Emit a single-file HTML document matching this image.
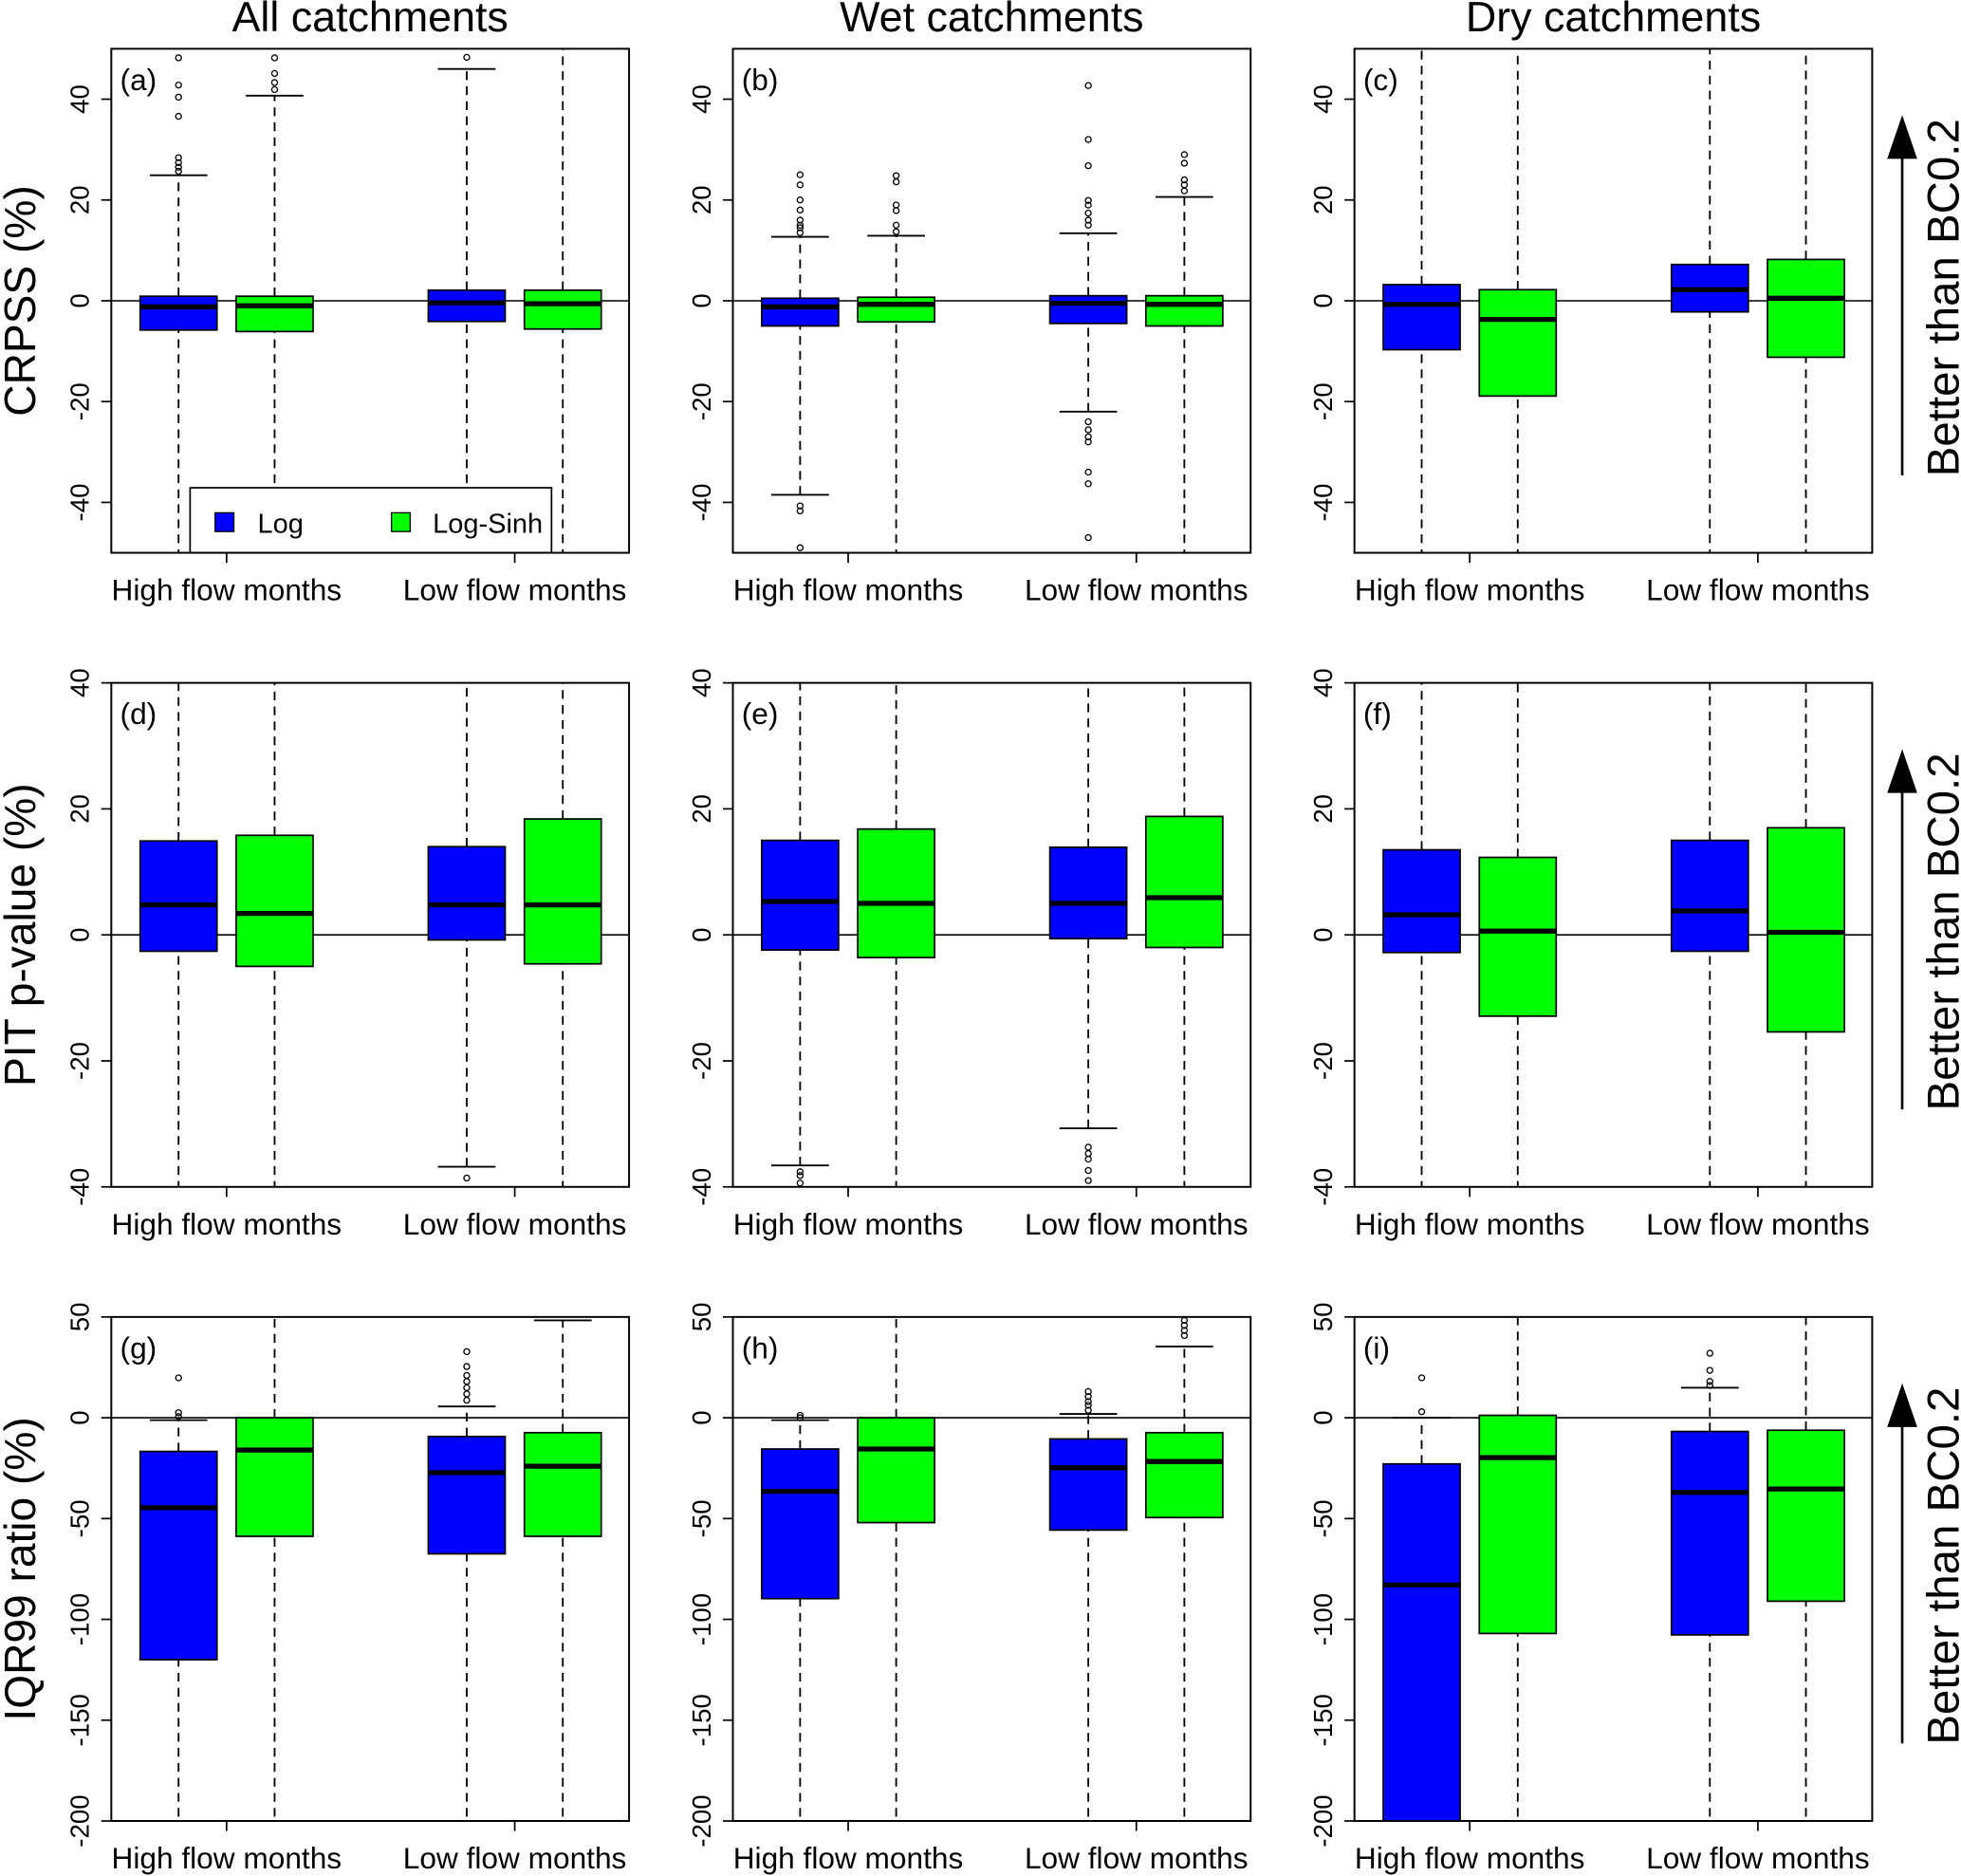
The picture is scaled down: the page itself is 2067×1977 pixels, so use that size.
<!DOCTYPE html>
<html><head><meta charset="utf-8"><style>
html,body{margin:0;padding:0;background:#fff;}
svg{display:block;font-family:"Liberation Sans",sans-serif;}
</style></head><body>
<svg id="fig" width="2067" height="1977" viewBox="0 0 1568 1500" preserveAspectRatio="none" xmlns="http://www.w3.org/2000/svg"></svg>
<script>
// ----- data -----
const colTitles = ["All catchments", "Wet catchments", "Dry catchments"];
const rowTitles = ["CRPSS (%)", "PIT p-value (%)", "IQR99 ratio (%)"];
const panelLetters = ["(a)","(b)","(c)","(d)","(e)","(f)","(g)","(h)","(i)"];
const groupLabels = ["High flow months", "Low flow months"];
const seriesNames = ["Log", "Log-Sinh"];
const seriesColors = ["#0000ff", "#00ff00"];
const row1Ticks = [-40, -20, 0, 20, 40];
const row2Ticks = [-40, -20, 0, 20, 40];
const row3Ticks = [-200, -150, -100, -50, 0, 50];
const row1Range = [-50, 50];
const row2Range = [-40, 40];
const row3Range = [-200, 50];
// stats per box: [lower whisker, Q1, median, Q3, upper whisker]; order Log-high, LogSinh-high, Log-low, LogSinh-low
const statsA = [[-60,-5.8,-1.2,0.9,24.9],[-60,-6.1,-1,0.9,40.7],[-60,-4.1,-0.4,2.1,46],[-60,-5.6,-0.6,2.1,60]];
const statsB = [[-38.5,-5,-1.2,0.5,12.7],[-60,-4.2,-0.7,0.7,12.9],[-22,-4.5,-0.5,1,13.4],[-60,-5,-0.7,1,20.6]];
const statsC = [[-60,-9.7,-0.7,3.2,60],[-60,-18.9,-3.7,2.2,60],[-60,-2.2,2.2,7.2,60],[-60,-11.2,0.5,8.2,60]];
const statsD = [[-50,-2.6,4.75,14.9,50],[-50,-5,3.4,15.8,50],[-36.8,-0.8,4.75,14,50],[-50,-4.6,4.75,18.4,50]];
const statsE = [[-36.6,-2.4,5.3,15,50],[-50,-3.6,5,16.8,50],[-30.7,-0.6,5,13.9,50],[-50,-2,5.9,18.8,50]];
const statsF = [[-50,-2.8,3.2,13.5,50],[-50,-12.9,0.6,12.3,50],[-50,-2.6,3.8,15,50],[-50,-15.4,0.4,17,50]];
const statsG = [[-250,-120,-44.6,-16.7,-1.2],[-250,-58.8,-16,0,80],[-250,-67.5,-27.2,-9.3,5.6],[-250,-58.8,-24,-7.4,48.3]];
const statsH = [[-250,-89.7,-36.5,-15.5,-1.2],[-250,-52,-15.5,0,80],[-250,-55.7,-24.8,-10.5,1.9],[-250,-49.5,-21.7,-7.4,35.3]];
const statsI = [[-250,-215,-82.9,-22.9,0],[-250,-107,-19.8,1.2,80],[-250,-107.7,-37,-6.8,14.9],[-250,-91,-35.3,-6.2,80]];
const outA = [[48.2,42.8,40.4,36.6,28.4,27.4,26.5,25.7],[48.2,45.1,43.3,41.9],[48.3],[]];
const outB = [[25,23,20,18,16,15,14.5,13.5,-40.7,-41.7,-49],[24.8,23.6,19,17.9,15,13.7],[42.7,32,26.8,19.9,19,17.4,16,15,-24,-25.6,-27,-28,-34,-36.3,-47],[29,27.3,24,23,21.8]];
const outC = [[],[],[],[]];
const outD = [[],[],[-38.6],[]];
const outE = [[-37.6,-38.2,-39.4],[],[-33.7,-34.7,-35.6,-37.4,-39],[]];
const outF = [[],[],[],[]];
const outG = [[19.8,2.5,0.6],[],[32.8,25.4,21,18,14.9,11.8,8.7],[]];
const outH = [[1.2,0],[],[13,10.5,8,6.2,3.7],[48.3,45.8,43.3,40.8]];
const outI = [[19.8,3],[],[32,23.5,18,16],[]];

// ----- layout -----
const NS = "http://www.w3.org/2000/svg";
const svg = document.getElementById("fig");
const colX = [89, 586, 1083], rowY = [39, 546, 1053], PW = 414, PH = 403;
const positions = [1, 2, 4, 5], xlim = [0.3, 5.69];
function mk(tag, attrs, parent) {
  const e = document.createElementNS(NS, tag);
  for (const k in attrs) e.setAttribute(k, attrs[k]);
  (parent || svg).appendChild(e);
  return e;
}
const allStats = [statsA,statsB,statsC,statsD,statsE,statsF,statsG,statsH,statsI];
const allOut = [outA,outB,outC,outD,outE,outF,outG,outH,outI];
const ranges = [row1Range,row2Range,row3Range];
const ticksByRow = [row1Ticks,row2Ticks,row3Ticks];

for (let r = 0; r < 3; r++) {
  for (let c = 0; c < 3; c++) {
    const p = r * 3 + c;
    const L = colX[c], T = rowY[r];
    const rng = ranges[r];
    const xs = v => L + (v - xlim[0]) / (xlim[1] - xlim[0]) * PW;
    const ys = v => T + PH - (v - rng[0]) / (rng[1] - rng[0]) * PH;
    const g = mk("g", {});
    
    
    const cid = "clip" + p;
    const cp = mk("clipPath", {id: cid}, g);
    mk("rect", {x: L, y: T, width: PW, height: PH}, cp);
    const plot = mk("g", {"clip-path": "url(#" + cid + ")"}, g);
    const zl = mk("line", {x1: L, x2: L + PW, y1: ys(0), y2: ys(0), stroke: "#000", "stroke-width": 1.2}, plot);
    
    
    const st = allStats[p], ou = allOut[p];
    for (let b = 0; b < 4; b++) {
      const cx = xs(positions[b]);
      const hw = 0.4 * PW / (xlim[1] - xlim[0]);
      const cw = 0.3 * PW / (xlim[1] - xlim[0]);
      const s = st[b];
      const bg = mk("g", {}, plot);
      
      
      mk("line", {x1: cx, x2: cx, y1: ys(s[0]), y2: ys(s[1]), stroke: "#000", "stroke-width": 1.4, "stroke-dasharray": "7,5"}, bg);
      mk("line", {x1: cx, x2: cx, y1: ys(s[3]), y2: ys(s[4]), stroke: "#000", "stroke-width": 1.4, "stroke-dasharray": "7,5"}, bg);
      mk("line", {x1: cx - cw, x2: cx + cw, y1: ys(s[0]), y2: ys(s[0]), stroke: "#000", "stroke-width": 1.4}, bg);
      mk("line", {x1: cx - cw, x2: cx + cw, y1: ys(s[4]), y2: ys(s[4]), stroke: "#000", "stroke-width": 1.4}, bg);
      mk("rect", {x: cx - hw, y: ys(s[3]), width: 2 * hw, height: ys(s[1]) - ys(s[3]), fill: seriesColors[b % 2], stroke: "#000", "stroke-width": 1.3}, bg);
      mk("line", {x1: cx - hw, x2: cx + hw, y1: ys(s[2]), y2: ys(s[2]), stroke: "#000", "stroke-width": 4}, bg);
      for (const o of ou[b]) {
        const ci = mk("circle", {cx: cx, cy: ys(o), r: 2.3, fill: "none", stroke: "#000", "stroke-width": 1}, bg);
        
        
      }
    }
    mk("rect", {x: L + 3, y: T + 10, width: 42, height: 32, fill: "#fff"}, g);
    const lt = mk("text", {x: L + 7, y: T + 33, "font-size": 24}, g);
    lt.textContent = panelLetters[p];
    
    
    if (p === 0) {
      const lg = mk("g", {}, g);
      
      
      mk("rect", {x: 152, y: 390, width: 289, height: 52, fill: "#fff", stroke: "#000", "stroke-width": 1.3}, lg);
      const lx = [172, 313], tx = [206, 346];
      for (let k = 0; k < 2; k++) {
        const le = mk("g", {}, lg);
        
        
        mk("rect", {x: lx[k], y: 410, width: 15, height: 15, fill: seriesColors[k], stroke: "#000", "stroke-width": 1}, le);
        const t = mk("text", {x: tx[k], y: 426, "font-size": 22}, le);
        t.textContent = seriesNames[k];
      }
    }
    const fr = mk("rect", {x: L, y: T, width: PW, height: PH, fill: "none", stroke: "#000", "stroke-width": 1.5}, g);
    
    
    const ya = mk("g", {}, g);
    
    
    for (const tv of ticksByRow[r]) {
      const y = ys(tv);
      mk("line", {x1: L - 8, x2: L, y1: y, y2: y, stroke: "#000", "stroke-width": 1.3}, ya);
      const t = mk("text", {x: 0, y: 0, "font-size": 21, "text-anchor": "middle", transform: "translate(" + (L - 18) + "," + y + ") rotate(-90)"}, ya);
      t.textContent = tv;
    }
    const xa = mk("g", {}, g);
    
    
    for (let k = 0; k < 2; k++) {
      const x = xs(k === 0 ? 1.5 : 4.5);
      mk("line", {x1: x, x2: x, y1: T + PH, y2: T + PH + 8, stroke: "#000", "stroke-width": 1.3}, xa);
      const t = mk("text", {x: x, y: T + PH + 38, "font-size": 24, "text-anchor": "middle"}, xa);
      t.textContent = groupLabels[k];
    }
    if (r === 0) {
      const t = mk("text", {x: L + PW / 2, y: 25, "font-size": 34, "text-anchor": "middle"});
      t.textContent = colTitles[c];
      
      
    }
    if (c === 0) {
      const t = mk("text", {x: 0, y: 0, "font-size": 35, "text-anchor": "middle", transform: "translate(28," + (T + PH / 2) + ") rotate(-90)"});
      t.textContent = rowTitles[r];
      
      
    }
    if (c === 2) {
      const ag = mk("g", {});
      
      
      mk("line", {x1: 1521, x2: 1521, y1: T + 341, y2: T + 80, stroke: "#000", "stroke-width": 2}, ag);
      mk("polygon", {points: (1509) + "," + (T + 88) + " 1521," + (T + 53) + " 1533," + (T + 88), fill: "#000"}, ag);
      const t = mk("text", {x: 0, y: 0, "font-size": 36, "text-anchor": "middle", transform: "translate(1566," + (T + 199) + ") rotate(-90)"}, ag);
      t.textContent = "Better than BC0.2";
    }
  }
}
</script>
</body></html>
